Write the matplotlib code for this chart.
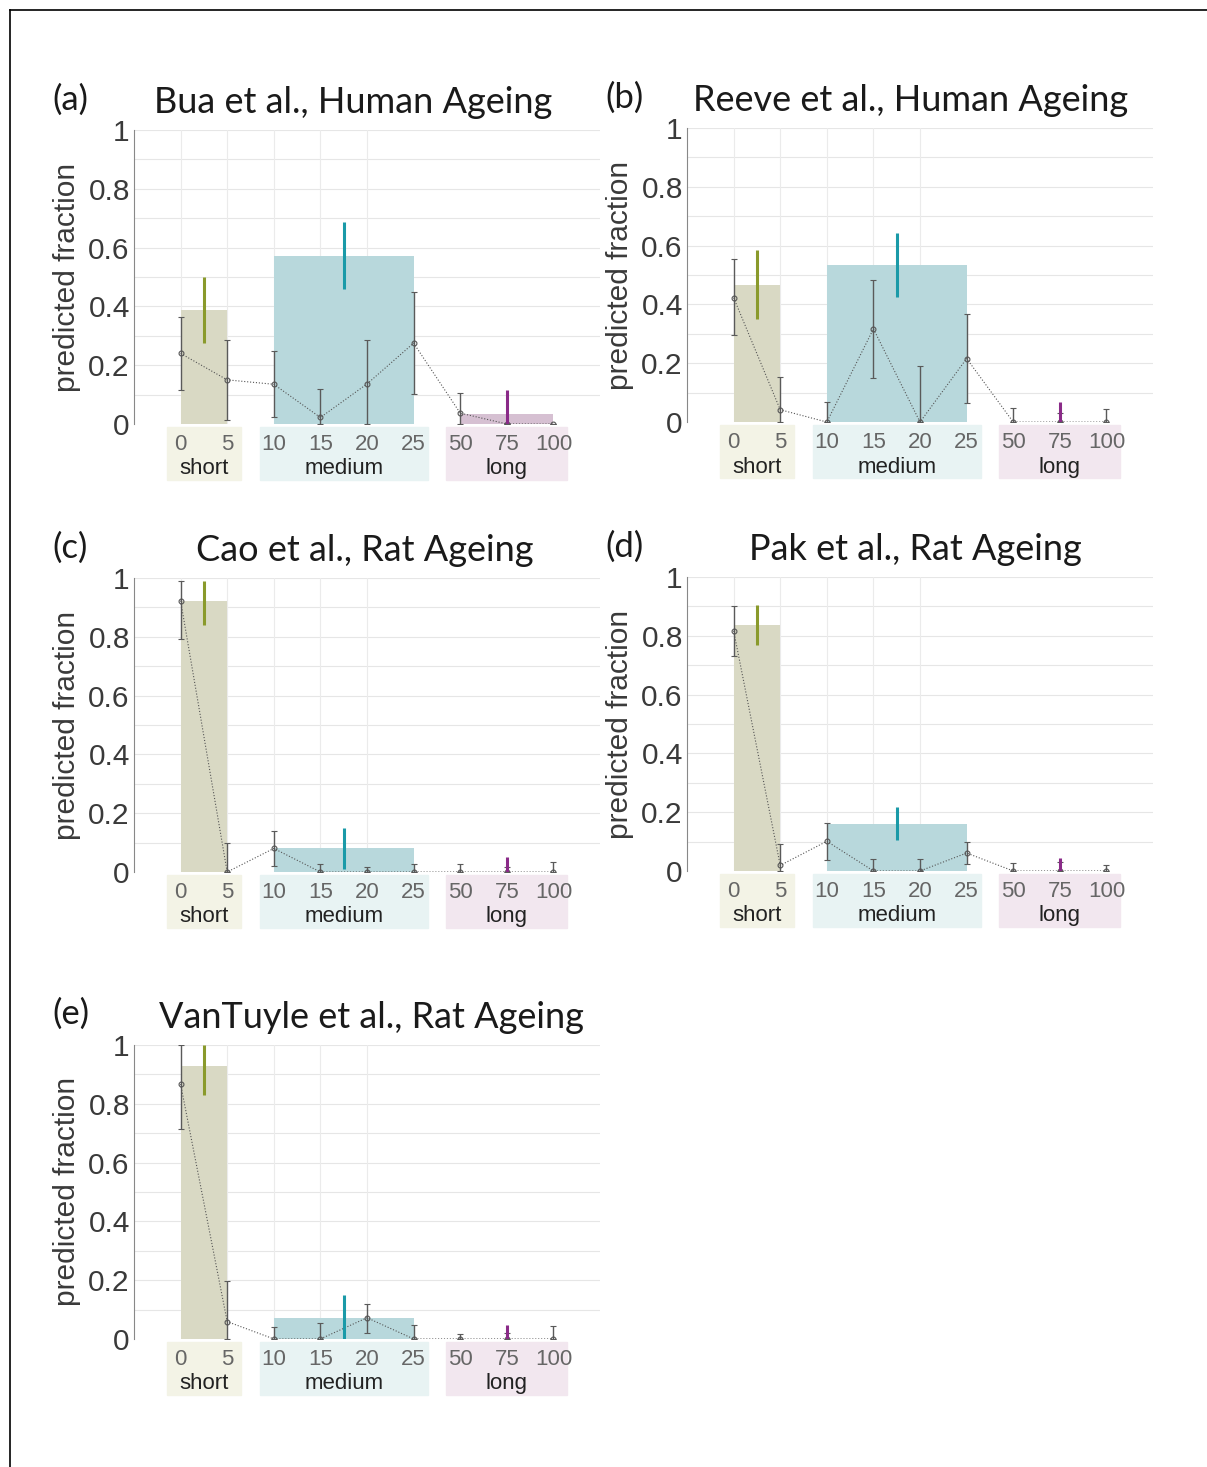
import matplotlib
matplotlib.use('Agg')
import matplotlib.pyplot as plt
import matplotlib.transforms as mtransforms
from matplotlib.lines import Line2D

'''
Data read off the figure
'''
# x categories (equally spaced)
x_labels = ['0', '5', '10', '15', '20', '25', '50', '75', '100']
groups = ['short', 'medium', 'long']
group_idx = [[0, 1], [2, 3, 4, 5], [6, 7, 8]]

panel_tags = ['(a)', '(b)', '(c)', '(d)', '(e)']
titles = ['Bua et al., Human Ageing', 'Reeve et al., Human Ageing',
          'Cao et al., Rat Ageing', 'Pak et al., Rat Ageing',
          'VanTuyle et al., Rat Ageing']

# per-length points with error bars
pts_a = [0.240, 0.150, 0.135, 0.022, 0.136, 0.275, 0.037, 0.0, 0.0]
lo_a = [0.114, 0.014, 0.025, 0.0, 0.0, 0.102, 0.0, 0.0, 0.0]
hi_a = [0.364, 0.284, 0.247, 0.119, 0.284, 0.449, 0.105, 0.0, 0.0]

pts_b = [0.423, 0.042, 0.0, 0.317, 0.0, 0.216, 0.0, 0.0, 0.0]
lo_b = [0.296, 0.0, 0.0, 0.150, 0.0, 0.065, 0.0, 0.0, 0.0]
hi_b = [0.554, 0.154, 0.068, 0.483, 0.190, 0.369, 0.048, 0.030, 0.044]

pts_c = [0.923, 0.0, 0.080, 0.0, 0.0, 0.0, 0.0, 0.0, 0.0]
lo_c = [0.793, 0.0, 0.020, 0.0, 0.0, 0.0, 0.0, 0.0, 0.0]
hi_c = [0.989, 0.099, 0.140, 0.028, 0.017, 0.028, 0.028, 0.017, 0.034]

pts_d = [0.817, 0.019, 0.101, 0.0, 0.0, 0.061, 0.0, 0.0, 0.0]
lo_d = [0.732, 0.0, 0.036, 0.0, 0.0, 0.023, 0.0, 0.0, 0.0]
hi_d = [0.900, 0.090, 0.164, 0.039, 0.039, 0.099, 0.028, 0.030, 0.019]

pts_e = [0.867, 0.059, 0.0, 0.0, 0.072, 0.0, 0.0, 0.0, 0.0]
lo_e = [0.713, 0.0, 0.0, 0.0, 0.021, 0.0, 0.0, 0.0, 0.0]
hi_e = [1.0, 0.196, 0.040, 0.054, 0.120, 0.048, 0.017, 0.020, 0.043]

# group bars (short, medium, long) and their ranges
bars_a = [0.389, 0.572, 0.034]
bar_lo_a = [0.275, 0.458, 0.0]
bar_hi_a = [0.500, 0.688, 0.114]

bars_b = [0.465, 0.534, 0.0]
bar_lo_b = [0.349, 0.425, 0.0]
bar_hi_b = [0.585, 0.642, 0.068]

bars_c = [0.923, 0.080, 0.0]
bar_lo_c = [0.839, 0.011, 0.0]
bar_hi_c = [0.991, 0.148, 0.051]

bars_d = [0.838, 0.161, 0.0]
bar_lo_d = [0.769, 0.107, 0.0]
bar_hi_d = [0.906, 0.218, 0.044]

bars_e = [0.929, 0.071, 0.0]
bar_lo_e = [0.829, 0.0, 0.0]
bar_hi_e = [1.0, 0.150, 0.048]

pts_all = [pts_a, pts_b, pts_c, pts_d, pts_e]
lo_all = [lo_a, lo_b, lo_c, lo_d, lo_e]
hi_all = [hi_a, hi_b, hi_c, hi_d, hi_e]
bars_all = [bars_a, bars_b, bars_c, bars_d, bars_e]
bar_lo_all = [bar_lo_a, bar_lo_b, bar_lo_c, bar_lo_d, bar_lo_e]
bar_hi_all = [bar_hi_a, bar_hi_b, bar_hi_c, bar_hi_d, bar_hi_e]

bar_colors = ['#d9d9c4', '#b8d8dc', '#d6c0d2']
line_colors = ['#8a9a2c', '#1a9aa8', '#8a2a88']
box_colors = ['#f3f3e6', '#e8f3f3', '#f2e7ef']

'''
Figure
'''
plt.rcParams['font.family'] = ['Liberation Sans', 'DejaVu Sans']
title_font = 'Lato'

fig = plt.figure(figsize=(12.07, 14.67), dpi=100)

# axes rectangles [left, bottom, width, height] in figure fractions
rects = [[0.1110, 0.7110, 0.3861, 0.2004],
         [0.5692, 0.7123, 0.3861, 0.2004],
         [0.1110, 0.4056, 0.3861, 0.2004],
         [0.5692, 0.4063, 0.3861, 0.2004],
         [0.1110, 0.0873, 0.3861, 0.2004]]
title_x = [0.47, 0.48, 0.495, 0.49, 0.51]

xs = list(range(len(x_labels)))

for k in range(5):
    ax = fig.add_axes(rects[k])
    ax.set_xlim(-1, 9)
    ax.set_ylim(0, 1)

    # light grid
    for yv in [i / 10 for i in range(1, 11)]:
        ax.axhline(yv, color='#e6e6e6', lw=0.8, zorder=0)
    for xv in xs[:5]:
        ax.axvline(xv, color='#ebebeb', lw=0.8, zorder=0)

    # group bars + their range lines
    for g in range(3):
        first, last = group_idx[g][0], group_idx[g][-1]
        ax.bar(first, bars_all[k][g], width=last - first, align='edge',
               color=bar_colors[g], zorder=1)
        mid = (first + last) / 2
        ax.plot([mid, mid], [bar_lo_all[k][g], bar_hi_all[k][g]],
                color=line_colors[g], lw=2.2, zorder=4, solid_capstyle='butt')

    # per-length points
    p = pts_all[k]
    yerr = [[p[i] - lo_all[k][i] for i in xs], [hi_all[k][i] - p[i] for i in xs]]
    ax.errorbar(xs, p, yerr=yerr, fmt='none', ecolor='#5a5a5a', elinewidth=1.0,
                capsize=2, capthick=0.8, zorder=3)
    ax.plot(xs, p, ls=':', color='#555555', lw=0.8, marker='o', ms=3.5,
            mfc='none', mec='#555555', mew=0.8, zorder=3)

    # axis styling
    for s in ['top', 'right', 'bottom']:
        ax.spines[s].set_visible(False)
    ax.spines['left'].set_color('#888888')
    ax.spines['left'].set_linewidth(0.8)
    ax.set_yticks([0, 0.2, 0.4, 0.6, 0.8, 1])
    ax.set_yticklabels(['0', '0.2', '0.4', '0.6', '0.8', '1'],
                       fontsize=21.5, color='#3a3a3a')
    ax.set_xticks(xs)
    ax.set_xticklabels(x_labels, fontsize=16, color='#666666')
    ax.tick_params(axis='both', length=0)
    ax.tick_params(axis='y', pad=3)
    ax.tick_params(axis='x', pad=7)
    ax.set_ylabel('predicted fraction', fontsize=21.5, color='#3a3a3a', labelpad=5)

    # group label boxes below the axis
    trans = mtransforms.blended_transform_factory(ax.transData, ax.transAxes)
    for g in range(3):
        first, last = group_idx[g][0], group_idx[g][-1]
        ax.add_patch(plt.Rectangle((first - 0.3, -0.19), last - first + 0.6, 0.18,
                                   transform=trans, color=box_colors[g],
                                   clip_on=False, zorder=0))
        ax.text((first + last) / 2, -0.153, groups[g], transform=trans,
                ha='center', va='center', fontsize=16, color='#222222')

    # title and panel tag
    ax.set_title(titles[k], fontsize=26, family=title_font, color='#1a1a1a',
                 pad=12, x=title_x[k])
    ax.text(-0.175, 1.07, panel_tags[k], transform=ax.transAxes, fontsize=25,
            family=title_font, color='#1a1a1a', ha='left', va='baseline')

# outer frame (top and left edges visible)
fig.add_artist(Line2D([0.0083, 1.0], [0.9932, 0.9932], color='black', lw=1.2))
fig.add_artist(Line2D([0.0083, 0.0083], [0.0, 0.9932], color='black', lw=1.2))

fig.savefig('out.png', dpi=100)
